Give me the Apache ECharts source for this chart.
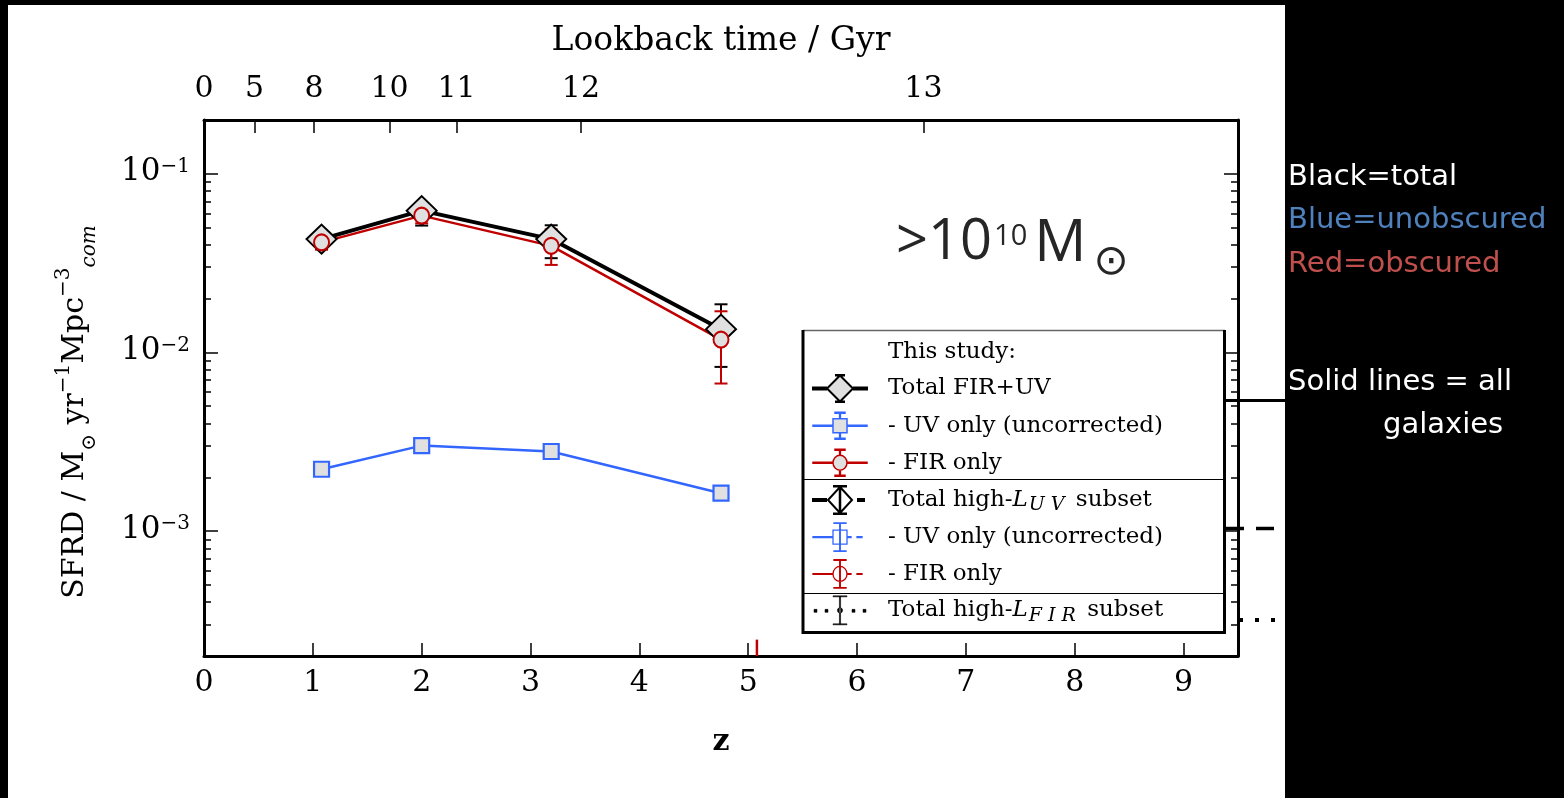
<!DOCTYPE html>
<html><head><meta charset="utf-8">
<script src="https://cdn.jsdelivr.net/npm/echarts@6/dist/echarts.min.js"></script>
<style>
html,body{margin:0;padding:0;background:#000;width:1564px;height:798px;overflow:hidden}
#panel{position:absolute;left:8px;top:5px;width:1277px;height:793px;background:#fff}
#chart{position:absolute;left:0;top:0;width:1564px;height:798px}
</style></head><body>
<div id="panel"></div><div id="chart"></div>
<script>
// ---------------- data ----------------
const zPoints      = [1.08, 2.0, 3.19, 4.75];
const totalSFRD    = [0.0431, 0.0622, 0.0431, 0.0135];
const totalErrLow  = [0.0405, 0.0513, 0.0337, 0.0083];
const totalErrHigh = [0.0460, 0.0680, 0.0515, 0.0186];
const uvSFRD       = [0.00222, 0.00301, 0.00279, 0.00163];
const uvErrLow     = [0.00213, 0.00291, 0.00269, 0.00156];
const uvErrHigh    = [0.00231, 0.00311, 0.00289, 0.00170];
const firSFRD      = [0.0413, 0.0583, 0.0395, 0.0118];
const firErrLow    = [0.0376, 0.0528, 0.0309, 0.0067];
const firErrHigh   = [0.0446, 0.0644, 0.0489, 0.0170];
// high-L_UV subset FIR-only: only a clipped error bar is visible
const hlFirZ       = [5.08];
const hlFirErrLow  = [0.0001];
const hlFirErrHigh = [0.000247];

const zTickValues     = [0, 1, 2, 3, 4, 5, 6, 7, 8, 9];
const lookbackTickZ   = [0, 0.464, 1.01, 1.705, 2.321, 3.463, 6.61];
const lookbackLabels  = ['0', '5', '8', '10', '11', '12', '13'];
const yMajorTicks     = [0.001, 0.01, 0.1];
const yMinorTicks     = [0.0003,0.0004,0.0005,0.0006,0.0007,0.0008,0.0009,
                         0.002,0.003,0.004,0.005,0.006,0.007,0.008,0.009,
                         0.02,0.03,0.04,0.05,0.06,0.07,0.08,0.09];

const legendNames = ['This study:', 'Total FIR+UV', '- UV only (uncorrected)', '- FIR only',
  'Total high-L_UV subset', 'high-L_UV: - UV only (uncorrected)', 'high-L_UV: - FIR only', 'Total high-L_FIR subset'];
const legendLabels = {
  'This study:': 'This study:',
  'Total FIR+UV': 'Total FIR+UV',
  '- UV only (uncorrected)': '- UV only (uncorrected)',
  '- FIR only': '- FIR only',
  'Total high-L_UV subset': 'Total high-{i|L}{s|U V} subset',
  'high-L_UV: - UV only (uncorrected)': '- UV only (uncorrected)',
  'high-L_UV: - FIR only': '- FIR only',
  'Total high-L_FIR subset': 'Total high-{i|L}{s|F I R} subset'
};

// ---------------- styling ----------------
const BLUE = '#3366ff', RED = '#c00000', GREY = '#e0e0e0';
const SERIF = 'DejaVu Serif';

function R(x1,y1,x2,y2){return `M${x1},${y1}L${x2},${y1}L${x2},${y2}L${x1},${y2}Z`;}
function D(cx,cy,hw,hh){return `M${cx},${cy-hh}L${cx+hw},${cy}L${cx},${cy+hh}L${cx-hw},${cy}Z`;}
function E(cx,cy,rx,ry){return `M${cx-rx},${cy}A${rx},${ry},0,1,0,${cx+rx},${cy}A${rx},${ry},0,1,0,${cx-rx},${cy}Z`;}
const BOX = 'M0,0M54,30';
const icons = {
  total: 'path://' + BOX + R(0,14,13,16) + R(41,14,54,16) + R(23,1.5,31,2) + R(23,28,31,28.5) + D(27,15,13,13),
  uv: 'path://' + BOX + R(0,14.5,20,15.5) + R(34,14.5,54,15.5) + R(26.6,2,27.4,8) + R(26.6,22,27.4,28) + R(22,1.6,32,2.4) + R(22,27.6,32,28.4) + R(20,8,34,22),
  fir: 'path://' + BOX + R(0,14.5,20,15.5) + R(34,14.5,54,15.5) + R(26.6,2,27.4,7.5) + R(26.6,22.5,27.4,28) + R(22,1.6,32,2.4) + R(22,27.6,32,28.4) + E(27,15,7,7.5),
  totalHL: 'path://' + BOX + R(0,14,13,16) + D(27,15,12,13) + R(26.75,1.5,27.25,28.5) + R(21,1,33,1.5) + R(21,28.5,33,29) + R(45,14,51,16),
  uvHL: 'path://' + BOX + R(0,14.6,20,15.4) + R(20,8,34,22) + R(26.7,1,27.3,29) + R(21,0.8,33,1.3) + R(21,28.7,33,29.2) + R(34,14.6,38,15.4) + R(44,14.6,49,15.4),
  firHL: 'path://' + BOX + R(0,14.6,20,15.4) + E(27,15,7,7.5) + R(26.7,1,27.3,29) + R(21,0.8,33,1.3) + R(21,28.7,33,29.2) + R(34,14.6,38,15.4) + R(44,14.6,49,15.4),
  firTot: 'path://' + BOX + R(1,14,4,17) + R(12,14,15,17) + R(26.4,1,27.6,29) + R(20,0.5,34,1.5) + R(20,28.5,34,29.5) + E(27,15,2.6,2.6) + R(39,14,42,17) + R(50,14,53,17)
};

function errSeries(name, xs, lo, hi, color, cap, width) {
  return {
    type: 'custom', name: name, clip: true, silent: true,
    data: xs.map((x, i) => [x, lo[i], hi[i]]),
    encode: { x: 0, y: [1, 2] },
    renderItem: function (params, api) {
      const x = api.value(0);
      const a = api.coord([x, api.value(1)]);
      const b = api.coord([x, api.value(2)]);
      const st = { stroke: color, lineWidth: width };
      const ch = [{ type: 'line', shape: { x1: a[0], y1: a[1], x2: b[0], y2: b[1] }, style: st }];
      if (cap > 0) {
        ch.push({ type: 'line', shape: { x1: a[0]-cap, y1: a[1], x2: a[0]+cap, y2: a[1] }, style: st });
        ch.push({ type: 'line', shape: { x1: b[0]-cap, y1: b[1], x2: b[0]+cap, y2: b[1] }, style: st });
      }
      return { type: 'group', children: ch };
    }
  };
}
function pts(xs, ys){ return xs.map((x, i) => [x, ys[i]]); }

const axisLineStyle = { color: '#000', width: 3 };
const tickStyle = { color: '#000', width: 1.5 };
const ANNOT = '29px "DejaVu Sans"';

const chart = echarts.init(document.getElementById('chart'), null, { renderer: 'canvas' });
chart.setOption({
  backgroundColor: 'transparent',
  animation: false,
  grid: { left: 204, right: 326, top: 120, bottom: 142, containLabel: false, outerBoundsMode: 'none' },
  xAxis: [
    {
      type: 'value', position: 'bottom', min: 0, max: 9.5,
      axisLine: { show: true, onZero: false, lineStyle: axisLineStyle },
      axisTick: { show: true, inside: true, length: 13, lineStyle: tickStyle, customValues: zTickValues },
      axisLabel: { customValues: zTickValues, fontFamily: SERIF, fontSize: 30, color: '#000', margin: 12 },
      splitLine: { show: false },
      name: 'z', nameLocation: 'middle', nameGap: 71, nameMoveOverlap: false,
      nameTextStyle: { fontFamily: SERIF, fontSize: 30, fontWeight: 'bold', color: '#000' }
    },
    {
      type: 'value', position: 'top', min: 0, max: 9.5,
      axisLine: { show: true, onZero: false, lineStyle: axisLineStyle },
      axisTick: { show: true, inside: true, length: 13, lineStyle: tickStyle, customValues: lookbackTickZ },
      axisLabel: {
        customValues: lookbackTickZ, fontFamily: SERIF, fontSize: 30, color: '#000', margin: 16,
        formatter: function (v) {
          let best = 0;
          lookbackTickZ.forEach((t, i) => { if (Math.abs(t - v) < Math.abs(lookbackTickZ[best] - v)) best = i; });
          return lookbackLabels[best];
        }
      },
      splitLine: { show: false },
      name: 'Lookback time / Gyr', nameLocation: 'middle', nameGap: 62, nameMoveOverlap: false,
      nameTextStyle: { fontFamily: SERIF, fontSize: 33, color: '#000' }
    }
  ],
  yAxis: [
    {
      type: 'log', logBase: 10, position: 'left', min: 0.0002, max: 0.2,
      axisLine: { show: true, onZero: false, lineStyle: axisLineStyle },
      axisTick: { show: true, inside: true, length: 14, lineStyle: tickStyle, customValues: yMajorTicks },
      axisLabel: {
        customValues: yMajorTicks, margin: 14, color: '#000',
        formatter: function (v) { return '{b|10}{s|\u2212' + Math.round(-Math.log10(v)) + '}'; },
        rich: {
          b: { fontFamily: SERIF, fontSize: 31, lineHeight: 34, verticalAlign: 'top', color: '#000' },
          s: { fontFamily: SERIF, fontSize: 20, lineHeight: 20, verticalAlign: 'top', color: '#000' }
        }
      },
      splitLine: { show: false }, minorTick: { show: false },
      name: '{b|SFRD / M}{sb|\u2299}{b| yr}{sp|\u22121}{b|Mpc}{sp|\u22123}{sbi|com}',
      nameLocation: 'middle', nameRotate: 90, nameGap: 114, nameMoveOverlap: false,
      nameTextStyle: {
        color: '#000',
        padding: [0, 48, 0, 0],
        rich: {
          b: { fontFamily: SERIF, fontSize: 30, lineHeight: 36, verticalAlign: 'top', padding: [6, 0, 0, 0], color: '#000' },
          sp: { fontFamily: SERIF, fontSize: 20, lineHeight: 20, verticalAlign: 'top', color: '#000' },
          sb: { fontFamily: SERIF, fontSize: 20, lineHeight: 20, verticalAlign: 'top', padding: [26, 0, 0, 0], color: '#000' },
          sbi: { fontFamily: SERIF, fontSize: 20, fontStyle: 'italic', lineHeight: 20, verticalAlign: 'top', padding: [26, 0, 0, 0], color: '#000' }
        }
      }
    },
    {
      type: 'log', logBase: 10, position: 'left', min: 0.0002, max: 0.2,
      axisLine: { show: false, onZero: false },
      axisTick: { show: true, inside: true, length: 7, lineStyle: tickStyle, customValues: yMinorTicks },
      axisLabel: { show: false }, splitLine: { show: false }
    },
    {
      type: 'log', logBase: 10, position: 'right', min: 0.0002, max: 0.2,
      axisLine: { show: true, onZero: false, lineStyle: axisLineStyle },
      axisTick: { show: true, inside: true, length: 14, lineStyle: tickStyle, customValues: yMajorTicks },
      axisLabel: { show: false }, splitLine: { show: false }
    },
    {
      type: 'log', logBase: 10, position: 'right', min: 0.0002, max: 0.2,
      axisLine: { show: false, onZero: false },
      axisTick: { show: true, inside: true, length: 7, lineStyle: tickStyle, customValues: yMinorTicks },
      axisLabel: { show: false }, splitLine: { show: false }
    }
  ],
  legend: {
    orient: 'vertical', left: 812, top: 337, padding: 0,
    itemWidth: 54, itemHeight: 30, itemGap: 5.5, selectedMode: false,
    textStyle: {
      fontFamily: SERIF, fontSize: 23, color: '#000', lineHeight: 30, padding: [0, 0, 0, 16],
      rich: {
        i: { fontFamily: SERIF, fontSize: 23, fontStyle: 'italic', lineHeight: 30, color: '#000' },
        s: { fontFamily: SERIF, fontSize: 19, fontStyle: 'italic', lineHeight: 19, verticalAlign: 'top', padding: [11, 4, 0, 1], color: '#000' }
      }
    },
    formatter: function (name) { return legendLabels[name]; },
    data: [
      { name: legendNames[0], icon: 'none' },
      { name: legendNames[1], icon: icons.total, itemStyle: { color: GREY, borderColor: '#000', borderWidth: 2 } },
      { name: legendNames[2], icon: icons.uv, itemStyle: { color: GREY, borderColor: BLUE, borderWidth: 1.5 } },
      { name: legendNames[3], icon: icons.fir, itemStyle: { color: GREY, borderColor: RED, borderWidth: 1.5 } },
      { name: legendNames[4], icon: icons.totalHL, itemStyle: { color: '#fff', borderColor: '#000', borderWidth: 2 } },
      { name: legendNames[5], icon: icons.uvHL, itemStyle: { color: '#fff', borderColor: BLUE, borderWidth: 1.3 } },
      { name: legendNames[6], icon: icons.firHL, itemStyle: { color: '#fff', borderColor: RED, borderWidth: 1.3 } },
      { name: legendNames[7], icon: icons.firTot, itemStyle: { color: '#000', borderColor: '#000', borderWidth: 0.5 } }
    ]
  },
  series: [
    { type: 'line', name: legendNames[0], data: [] },
    errSeries('Total FIR+UV errors', zPoints, totalErrLow, totalErrHigh, '#000', 6.5, 2),
    {
      type: 'line', name: legendNames[1], data: pts(zPoints, totalSFRD),
      symbol: 'diamond', symbolSize: [30, 29], showSymbol: true,
      lineStyle: { color: '#000', width: 4 },
      itemStyle: { color: GREY, borderColor: '#000', borderWidth: 2 },
      emphasis: { disabled: true }
    },
    errSeries('UV only errors', zPoints, uvErrLow, uvErrHigh, BLUE, 6, 1.5),
    {
      type: 'line', name: legendNames[2], data: pts(zPoints, uvSFRD),
      symbol: 'rect', symbolSize: 15, showSymbol: true,
      lineStyle: { color: BLUE, width: 2.5 },
      itemStyle: { color: GREY, borderColor: BLUE, borderWidth: 2.2 },
      emphasis: { disabled: true }
    },
    errSeries('FIR only errors', zPoints, firErrLow, firErrHigh, RED, 6.5, 2),
    {
      type: 'line', name: legendNames[3], data: pts(zPoints, firSFRD),
      symbol: 'circle', symbolSize: [15, 16], showSymbol: true,
      lineStyle: { color: RED, width: 2.5 },
      itemStyle: { color: GREY, borderColor: RED, borderWidth: 2 },
      emphasis: { disabled: true }
    },
    { type: 'line', name: legendNames[4], data: [], lineStyle: { color: '#000', type: 'dashed' } },
    { type: 'line', name: legendNames[5], data: [], lineStyle: { color: BLUE, type: 'dashed' } },
    { type: 'line', name: legendNames[6], data: [], lineStyle: { color: RED, type: 'dashed' } },
    errSeries('high-L_UV FIR only errors', hlFirZ, hlFirErrLow, hlFirErrHigh, RED, 0, 2.5),
    { type: 'line', name: legendNames[7], data: [], lineStyle: { color: '#000', type: 'dotted' } }
  ],
  graphic: [
    // legend frame & separators
    { type: 'line', shape: { x1: 803, y1: 330.5, x2: 1225, y2: 330.5 }, style: { stroke: '#666', lineWidth: 1.5 }, z: 10 },
    { type: 'line', shape: { x1: 803, y1: 330, x2: 803, y2: 634 }, style: { stroke: '#000', lineWidth: 3 }, z: 10 },
    { type: 'line', shape: { x1: 1224.5, y1: 330, x2: 1224.5, y2: 634 }, style: { stroke: '#000', lineWidth: 3 }, z: 10 },
    { type: 'line', shape: { x1: 803, y1: 632.5, x2: 1226, y2: 632.5 }, style: { stroke: '#000', lineWidth: 3 }, z: 10 },
    { type: 'line', shape: { x1: 803, y1: 479.5, x2: 1225, y2: 479.5 }, style: { stroke: '#000', lineWidth: 1 }, z: 10 },
    { type: 'line', shape: { x1: 803, y1: 593.5, x2: 1225, y2: 593.5 }, style: { stroke: '#000', lineWidth: 1 }, z: 10 },
    // slide annotation line samples
    { type: 'line', shape: { x1: 1225, y1: 400.5, x2: 1286, y2: 400.5 }, style: { stroke: '#000', lineWidth: 3 }, z: 10 },
    { type: 'line', shape: { x1: 1226, y1: 528.5, x2: 1244, y2: 528.5 }, style: { stroke: '#000', lineWidth: 3.5 }, z: 10 },
    { type: 'line', shape: { x1: 1256, y1: 528.5, x2: 1274, y2: 528.5 }, style: { stroke: '#000', lineWidth: 3.5 }, z: 10 },
    { type: 'rect', shape: { x: 1239, y: 618, width: 4, height: 4 }, style: { fill: '#000' }, z: 10 },
    { type: 'rect', shape: { x: 1255, y: 618, width: 4, height: 4 }, style: { fill: '#000' }, z: 10 },
    { type: 'rect', shape: { x: 1271, y: 618, width: 4, height: 4 }, style: { fill: '#000' }, z: 10 },
    // mass-cut annotation
    {
      type: 'text', left: 896, top: 215, z: 10,
      style: {
        text: '{m|>10}{s|10}{w|M}{o|\u2299}',
        rich: {
          m: { fontFamily: 'Open Sans', fontSize: 56, lineHeight: 64, verticalAlign: 'top', fill: '#262626' },
          w: { fontFamily: 'Open Sans', fontSize: 58, lineHeight: 64, verticalAlign: 'top', padding: [0, 0, 0, 3], fill: '#262626' },
          s: { fontFamily: 'Open Sans', fontSize: 29, lineHeight: 29, verticalAlign: 'top', padding: [7, 4, 0, 2], fill: '#262626' },
          o: { fontFamily: 'DejaVu Sans', fontSize: 42, lineHeight: 42, verticalAlign: 'top', padding: [27, 0, 0, 7], fill: '#262626' }
        }
      }
    },
    // slide text on the right
    { type: 'text', left: 1288, top: 163, style: { text: 'Black=total', fill: '#ffffff', font: ANNOT } },
    { type: 'text', left: 1288, top: 206, style: { text: 'Blue=unobscured', fill: '#4f81bd', font: ANNOT } },
    { type: 'text', left: 1288, top: 250, style: { text: 'Red=obscured', fill: '#c0504d', font: ANNOT } },
    { type: 'text', left: 1288, top: 368, style: { text: 'Solid lines = all', fill: '#ffffff', font: ANNOT } },
    { type: 'text', left: 1383, top: 411, style: { text: 'galaxies', fill: '#ffffff', font: ANNOT } }
  ]
});
</script>
</body></html>
